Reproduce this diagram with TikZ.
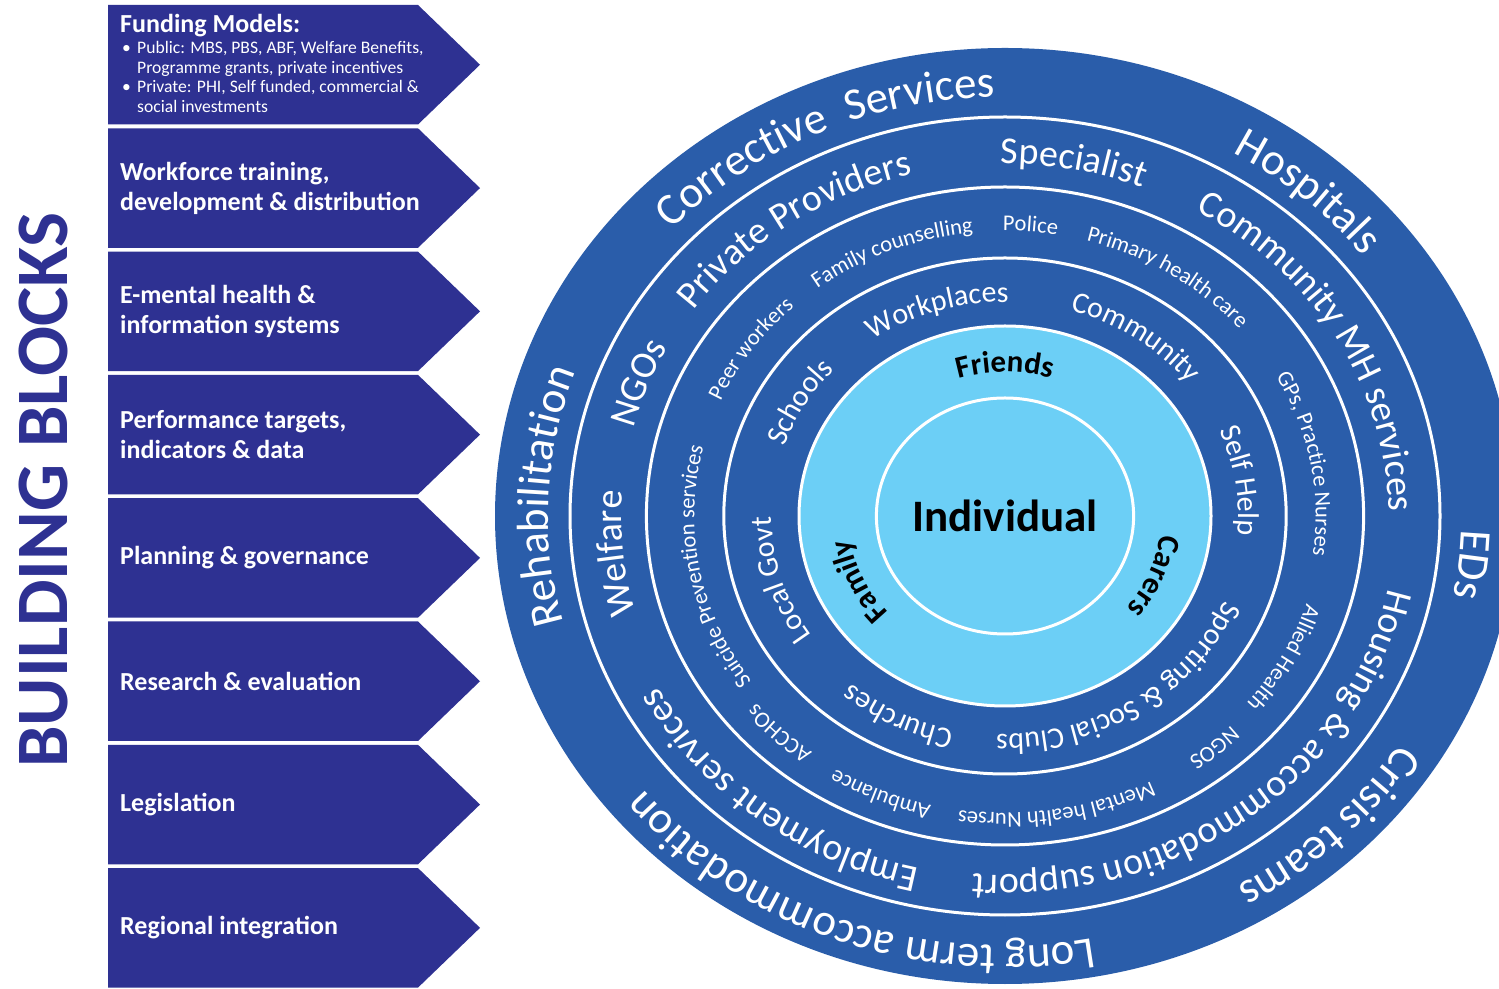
\documentclass[tikz,border=0pt]{standalone}
\usepackage{fontspec}
\setmainfont{Carlito}
\usetikzlibrary{decorations.text}
\definecolor{ringblue}{RGB}{42,93,170}
\definecolor{lightring}{RGB}{108,207,246}
\definecolor{indigo}{RGB}{46,49,146}
\newcommand\ringfontA{\color{white}\fontsize{45}{45}\selectfont}
\newcommand\ringfontB{\color{white}\fontsize{38}{38}\selectfont}
\newcommand\ringfontC{\color{white}\fontsize{22.5}{22.5}\selectfont}
\newcommand\ringfontD{\color{white}\fontsize{30}{30}\selectfont}
\newcommand\ringfontE{\color{black}\bfseries\fontsize{31}{31}\selectfont}
% #1 baseline radius (y), #2 centre angle, #3 format, #4 text
\newcommand\ringtext[4]{%
  \pgfmathsetmacro\rtA{#2+75}%
  \pgfmathsetmacro\rtB{#2-75}%
  \pgfmathsetmacro\rtRX{1.09*#1}%
  \pgfmathsetmacro\rtSX{1005+1.09*#1*cos(\rtA)}%
  \pgfmathsetmacro\rtSY{472+#1*sin(\rtA)}%
  \path[decorate, decoration={text along path, text align=center, text={|#3|#4}}]
    (\rtSX pt,\rtSY pt) arc[start angle=\rtA, end angle=\rtB, x radius=\rtRX pt, y radius=#1 pt];
}
\begin{document}
\begin{tikzpicture}[x=1pt,y=1pt,
  ringline/.style={draw=white, line width=3pt},
  boxtext/.style={anchor=west, inner sep=0pt, text=white, align=left, font=\bfseries\fontsize{26}{30}\selectfont},
  fundtitle/.style={anchor=base west, inner sep=0pt, text=white, font=\bfseries\fontsize{26}{30}\selectfont},
  fundline/.style={anchor=base west, inner sep=0pt, text=white, font=\fontsize{17.6}{19.5}\selectfont}]
\useasboundingbox (0,0) rectangle (1499,988);
\fill[white] (0,0) rectangle (1499,988);
\clip (0,0) rectangle (1499,988);

% ---- building blocks (left) ----
\foreach \t in {5,128.3,251.6,374.9,498.2,621.5,744.8,868.1} {
  \fill[indigo] (108,{988-\t}) -- (418,{988-\t}) -- (480,{988-\t-59.75}) -- (418,{988-\t-119.5}) -- (108,{988-\t-119.5}) -- cycle;
}
\node[anchor=center, inner sep=0pt, rotate=90, text=indigo, font=\bfseries\fontsize{74}{74}\selectfont] (title) at (44,498) {BUILDING BLOCKS};

\node[fundtitle] (fund) at (120,955) {Funding Models:};
\node[fundline] (fb1) at (122,934) {\textbullet};
\node[fundline] (fl1) at (137,934) {Public: MBS, PBS, ABF, Welfare Benefits,};
\node[fundline] (fl2) at (137,914.5) {Programme grants, private incentives};
\node[fundline] (fb2) at (122,895) {\textbullet};
\node[fundline] (fl3) at (137,895) {Private: PHI, Self funded, commercial \&};
\node[fundline] (fl4) at (137,875.5) {social investments};

\node[boxtext] (b2) at (120,800) {Workforce training,\\development \& distribution};
\node[boxtext] (b3) at (120,676.6) {E-mental health \&\\information systems};
\node[boxtext] (b4) at (120,553.4) {Performance targets,\\indicators \& data};
\node[boxtext] (b5) at (120,430) {Planning \& governance};
\node[boxtext] (b6) at (120,306.8) {Research \& evaluation};
\node[boxtext] (b7) at (120,183.4) {Legislation};
\node[boxtext] (b8) at (120,60.1) {Regional integration};

% ---- rings ----
\fill[ringblue] (1005,472) ellipse[x radius=510pt, y radius=468pt];
\draw[ringline] (1005,472) ellipse[x radius=435pt, y radius=399pt];
\draw[ringline] (1005,472) ellipse[x radius=358.6pt, y radius=329pt];
\draw[ringline] (1005,472) ellipse[x radius=281.2pt, y radius=258pt];
\filldraw[fill=lightring, ringline] (1005,472) ellipse[x radius=206pt, y radius=190pt];
\draw[ringline] (1005,472) ellipse[x radius=128.6pt, y radius=118pt];

\node[font=\bfseries\fontsize{45}{45}\selectfont, text=black, inner sep=0pt] (indiv) at (1005,472) {Individual};

% band 1
\ringtext{419}{115.5}{\ringfontA}{Corrective{~}{~}Services}
\ringtext{419}{47}{\ringfontA}{Hospitals}
\ringtext{419}{-6}{\ringfontA}{EDs}
\ringtext{427}{-44}{\ringfontA}{Crisis teams}
\ringtext{430}{-111}{\ringfontA}{Long term accommodation}
\ringtext{419}{177.5}{\ringfontA}{Rehabilitation}
% band 2
\ringtext{352}{126}{\ringfontB}{Private Providers}
\ringtext{352}{79}{\ringfontB}{Specialist}
\ringtext{352}{29}{\ringfontB}{Community MH services}
\ringtext{359}{-52}{\ringfontB}{Housing {\&} accommodation support}
\ringtext{361}{-129}{\ringfontB}{Employment services}
\ringtext{352}{185.5}{\ringfontB}{Welfare}
\ringtext{352}{160}{\ringfontB}{NGOs}
% band 3
\ringtext{285}{146.5}{\ringfontC}{Peer workers}
\ringtext{285}{113}{\ringfontC}{Family counselling}
\ringtext{285}{85}{\ringfontC}{Police}
\ringtext{285}{56}{\ringfontC}{Primary health care}
\ringtext{285}{10}{\ringfontC}{GPs, Practice Nurses}
\ringtext{290}{-27}{\ringfontC}{Allied Health}
\ringtext{295}{-48}{\ringfontC}{NGOS}
\ringtext{297}{-80}{\ringfontC}{Mental health Nurses}
\ringtext{297}{-114}{\ringfontC}{Ambulance}
\ringtext{295}{-136}{\ringfontC}{ACCHOs}
\ringtext{285}{190}{\ringfontC}{Suicide Prevention services}
% band 4
\ringtext{214}{151}{\ringfontD}{Schools}
\ringtext{214}{108}{\ringfontD}{Workplaces}
\ringtext{214}{54}{\ringfontD}{Community}
\ringtext{214}{8.5}{\ringfontD}{Self Help}
\ringtext{218}{-56}{\ringfontD}{Sporting {\&} Social Clubs}
\ringtext{219}{-118}{\ringfontD}{Churches}
\ringtext{214}{196}{\ringfontD}{Local Govt}
% light band
\ringtext{144}{90}{\ringfontE}{Friends}
\ringtext{144}{-22}{\ringfontE}{Carers}
\ringtext{144}{204}{\ringfontE}{Family}
\end{tikzpicture}
\end{document}
